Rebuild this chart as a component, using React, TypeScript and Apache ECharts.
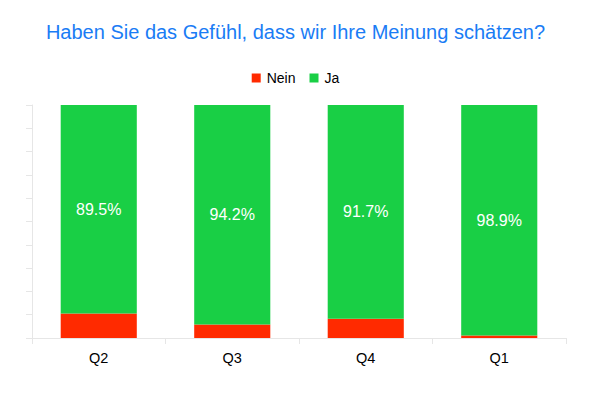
import React, { useEffect, useRef } from "react";
import * as echarts from "echarts";

const categories = ["Q2", "Q3", "Q4", "Q1"];
const neinValues = [10.5, 5.8, 8.3, 1.1];
const jaValues = [89.5, 94.2, 91.7, 98.9];

export default function App() {
  const ref = useRef<HTMLDivElement>(null);
  useEffect(() => {
    const chart = echarts.init(ref.current!, null, { renderer: "svg" });
    chart.setOption({
      animation: false,
      textStyle: { fontFamily: "Liberation Sans, Arial, sans-serif" },
      title: {
        text: "Haben Sie das Gefühl, dass wir Ihre Meinung schätzen?",
        left: "center",
        top: 17,
        textStyle: { color: "#1a7cf5", fontSize: 20, fontWeight: "normal" },
      },
      legend: {
        top: 66,
        left: "center",
        itemWidth: 9,
        itemHeight: 9,
        itemGap: 14,
        icon: "rect",
        textStyle: { fontSize: 14, color: "#000", padding: [0, 0, 0, 1] },
        data: ["Nein", "Ja"],
      },
      grid: { left: 32, right: 25, top: 105, bottom: 55 },
      xAxis: {
        type: "category",
        data: categories,
        axisLine: { lineStyle: { color: "#e6e6e6" } },
        axisTick: { show: true, length: 6, lineStyle: { color: "#e6e6e6" } },
        axisLabel: { color: "#000", fontSize: 14.5, margin: 12 },
      },
      yAxis: {
        type: "value",
        min: 0,
        max: 100,
        interval: 10,
        axisLine: { show: true, lineStyle: { color: "#e6e6e6" } },
        axisTick: { show: true, length: 6, lineStyle: { color: "#e6e6e6" } },
        axisLabel: { show: false },
        splitLine: { show: false },
      },
      series: [
        {
          name: "Nein",
          type: "bar",
          stack: "total",
          barWidth: "57%",
          itemStyle: { color: "#ff2a00" },
          data: neinValues,
        },
        {
          name: "Ja",
          type: "bar",
          stack: "total",
          barWidth: "57%",
          itemStyle: { color: "#19cf45" },
          label: {
            show: true,
            position: "inside",
            color: "#fff",
            fontSize: 16,
            formatter: (p: any) => p.value.toFixed(1) + "%",
          },
          data: jaValues,
        },
      ],
    });
    return () => chart.dispose();
  }, []);
  return <div ref={ref} style={{ width: 591, height: 393, margin: -8 }} />;
}
